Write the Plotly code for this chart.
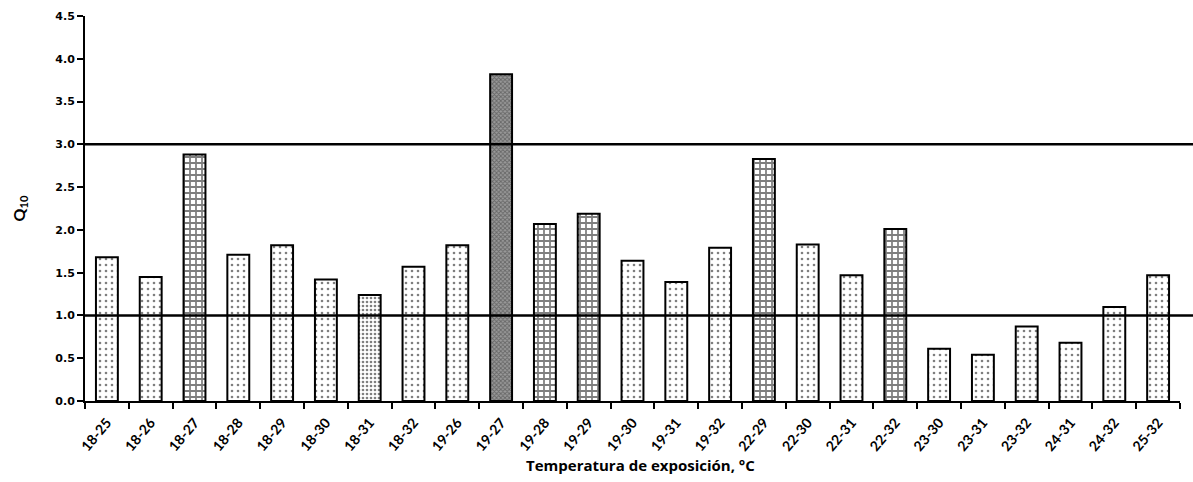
import plotly.graph_objects as go

categories = ["18-25", "18-26", "18-27", "18-28", "18-29", "18-30", "18-31", "18-32",
              "19-26", "19-27", "19-28", "19-29", "19-30", "19-31", "19-32",
              "22-29", "22-30", "22-31", "22-32",
              "23-30", "23-31", "23-32", "24-31", "24-32", "25-32"]
q10 = [1.68, 1.45, 2.88, 1.71, 1.82, 1.42, 1.24, 1.57,
       1.82, 3.82, 2.07, 2.19, 1.64, 1.39, 1.79,
       2.83, 1.83, 1.47, 2.01,
       0.61, 0.54, 0.87, 0.68, 1.10, 1.47]
reference_lines = [1.0, 3.0]
y_ticks = [0.0, 0.5, 1.0, 1.5, 2.0, 2.5, 3.0, 3.5, 4.0, 4.5]
x_title = "Temperatura de exposición, °C"

brick_cats = {"18-27", "19-28", "19-29", "22-29", "22-32"}
dense_cats = {"18-31"}
dark_cats = {"19-27"}

shapes_p, sizes_p, sol_p, fg_p, bg_p = [], [], [], [], []
for c in categories:
    if c in brick_cats:
        shapes_p.append("+"); sizes_p.append(6); sol_p.append(0.5); fg_p.append("black"); bg_p.append("white")
    elif c in dark_cats:
        shapes_p.append("x"); sizes_p.append(3); sol_p.append(0.5); fg_p.append("#333333"); bg_p.append("#9a9a9a")
    elif c in dense_cats:
        shapes_p.append("."); sizes_p.append(4); sol_p.append(0.35); fg_p.append("black"); bg_p.append("white")
    else:
        shapes_p.append("."); sizes_p.append(6); sol_p.append(0.15); fg_p.append("black"); bg_p.append("white")

fig = go.Figure()
fig.add_trace(go.Bar(
    x=categories, y=q10,
    marker=dict(
        color="white",
        line=dict(color="black", width=2),
        pattern=dict(shape=shapes_p, size=sizes_p, solidity=sol_p,
                     fgcolor=fg_p, bgcolor=bg_p, fillmode="overlay"),
    ),
    width=0.5,
    showlegend=False,
))

for v in reference_lines:
    fig.add_shape(type="line", xref="paper", yref="y", x0=0, x1=1.02, y0=v, y1=v,
                  line=dict(color="black", width=2.5), layer="above")

fig.add_annotation(text=x_title, xref="paper", yref="paper", x=0.507, y=-0.165,
                   xanchor="center", yanchor="middle", showarrow=False,
                   font=dict(family="Open Sans", size=15, color="black", weight="bold"))

fig.update_layout(
    width=1193, height=482,
    margin=dict(l=85, r=13, t=10, b=81),
    paper_bgcolor="white", plot_bgcolor="white",
    bargap=0.5,
    xaxis=dict(
        type="category",
        tickangle=-50,
        tickfont=dict(family="Lato", size=14, color="black", weight="bold"),
        showline=True, linecolor="black", linewidth=2,
        ticks="outside", ticklen=6, tickwidth=2, tickcolor="black",
        tickson="boundaries",
        ticklabelstandoff=6,
        showgrid=False,
    ),
    yaxis=dict(
        range=[0, 4.5],
        tickvals=y_ticks,
        ticktext=[f"{t:.1f}" for t in y_ticks],
        tickfont=dict(family="DejaVu Sans", size=11, color="black", weight="bold"),
        showline=True, linecolor="black", linewidth=2,
        ticks="outside", ticklen=6, tickwidth=2, tickcolor="black",
        showgrid=False, zeroline=False,
        title=dict(text="Q<sub>10</sub>",
                   font=dict(family="Lato", size=16, color="black", weight="bold"),
                   standoff=26),
    ),
)

fig.write_html("out.html")
